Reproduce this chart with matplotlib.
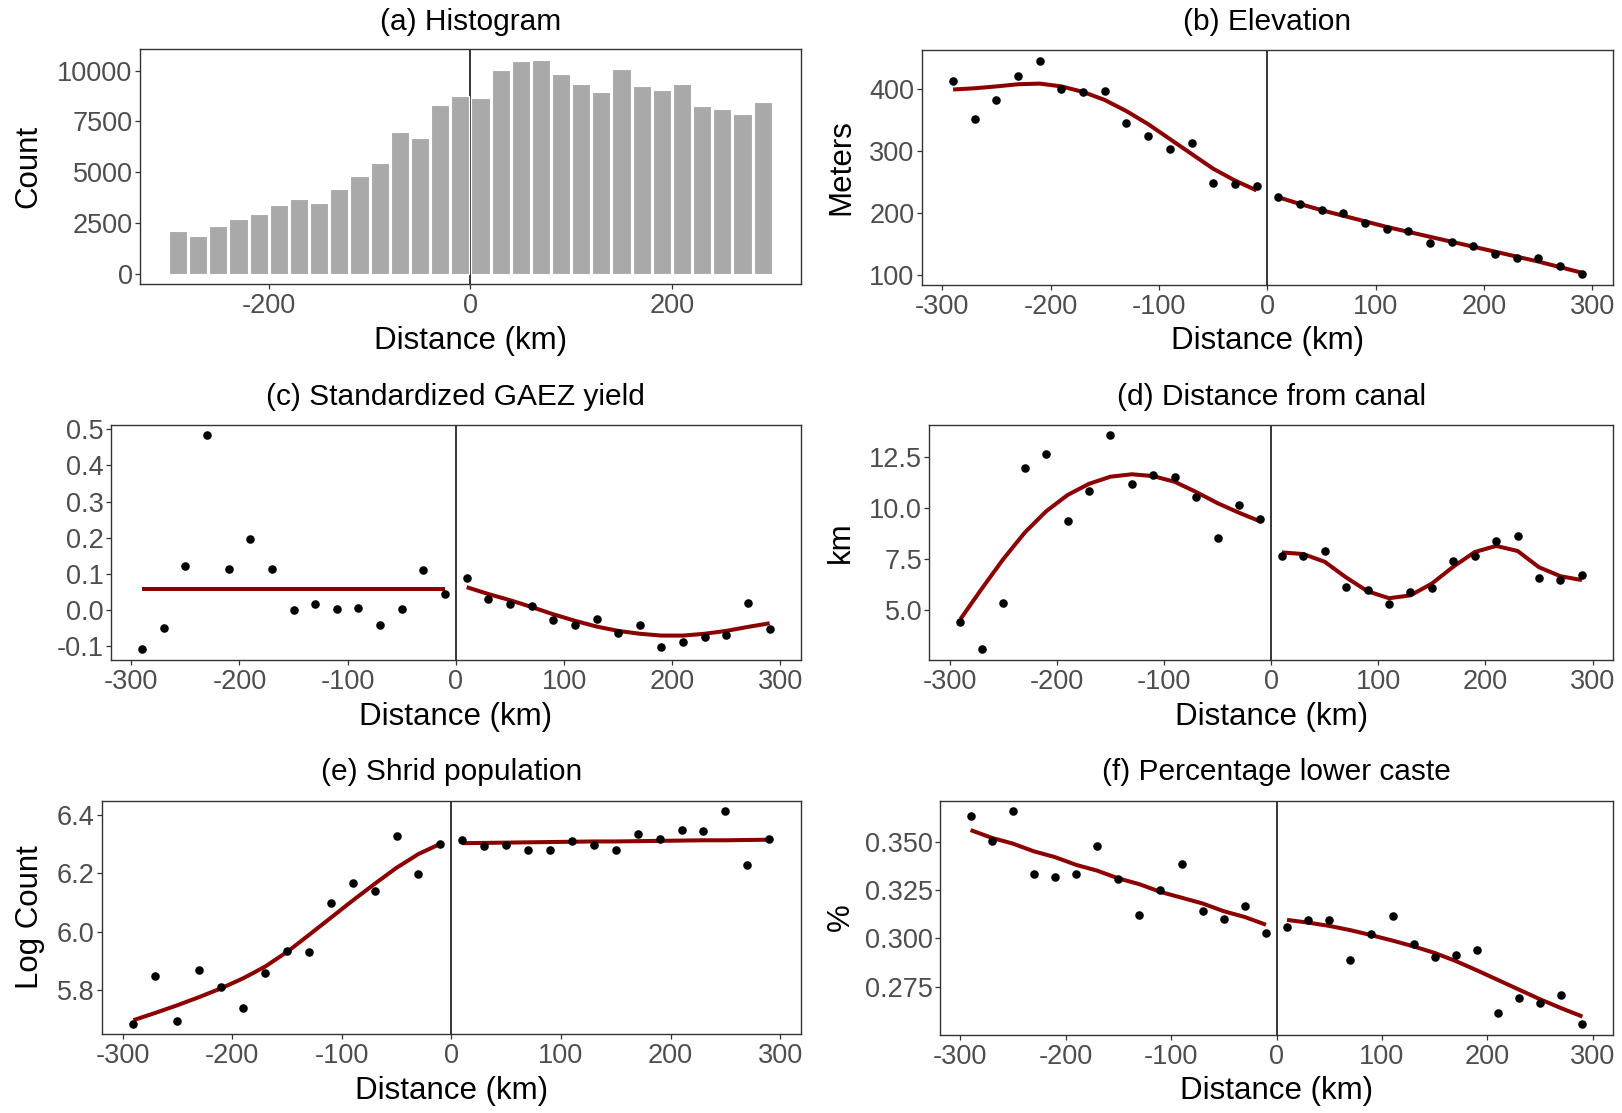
import numpy as np
import matplotlib.pyplot as plt

plt.rcParams['font.family'] = ['Liberation Sans', 'DejaVu Sans']
plt.rcParams['axes.unicode_minus'] = False

# bin centres (km from the border)
dist_all = [-290, -270, -250, -230, -210, -190, -170, -150, -130, -110, -90, -70, -50, -30, -10,
            10, 30, 50, 70, 90, 110, 130, 150, 170, 190, 210, 230, 250, 270, 290]
dist_left = dist_all[:15]
dist_right = dist_all[15:]

# (a) histogram
hist_counts = [2100, 1840, 2360, 2670, 2920, 3360, 3700, 3460, 4150, 4790, 5430, 6980, 6700, 8330, 8770,
               8640, 10050, 10480, 10520, 9840, 9360, 8930, 10080, 9260, 9050, 9360, 8250, 8130, 7840, 8460]

# (b) elevation
elev = [414.5, 351.8, 382.9, 422.5, 446.6, 401, 396, 397.9, 345.4, 325.5, 303.6, 313.2, 249.5, 247.3, 243.6,
        227, 214.6, 204.5, 200.7, 183.6, 174, 171.3, 152.5, 154.1, 146.6, 133.8, 127.3, 127.8, 115, 102.1]
elev_fit_l = [400, 402, 405, 408.5, 409.5, 405, 396, 383, 365, 344, 320, 296, 272, 253, 237]
elev_fit_r = [226, 215, 205, 196, 187, 178, 170, 162, 154, 146, 138, 130, 122, 113, 104]

# (c) GAEZ yield
gaez = [-0.109, -0.051, 0.121, 0.483, 0.112, 0.197, 0.113, 0.001, 0.016, 0.003, 0.005, -0.043, 0.002, 0.111, 0.045,
        0.088, 0.029, 0.016, 0.012, -0.029, -0.042, -0.026, -0.064, -0.042, -0.103, -0.088, -0.075, -0.069, 0.019, -0.054]
gaez_fit_l = [0.057] * 15
gaez_fit_r = [0.063, 0.044, 0.027, 0.008, -0.012, -0.030, -0.046, -0.058, -0.066, -0.071, -0.071, -0.066, -0.058, -0.047, -0.037]

# (d) distance from canal
canal = [4.40, 3.07, 5.34, 12.0, 12.65, 9.38, 10.83, 13.58, 11.19, 11.62, 11.52, 10.56, 8.53, 10.16, 9.46,
         7.63, 7.63, 7.92, 6.11, 5.98, 5.28, 5.90, 6.09, 7.42, 7.66, 8.40, 8.63, 6.57, 6.49, 6.70]
canal_fit_l = [4.55, 6.05, 7.5, 8.8, 9.85, 10.65, 11.2, 11.55, 11.67, 11.58, 11.3, 10.8, 10.25, 9.78, 9.35]
canal_fit_r = [7.83, 7.75, 7.37, 6.6, 5.92, 5.58, 5.72, 6.3, 7.13, 7.85, 8.15, 7.9, 7.1, 6.66, 6.47]

# (e) shrid population
pop = [5.685, 5.847, 5.694, 5.870, 5.810, 5.739, 5.857, 5.932, 5.929, 6.098, 6.166, 6.139, 6.326, 6.197, 6.300,
       6.312, 6.292, 6.297, 6.279, 6.278, 6.308, 6.297, 6.279, 6.335, 6.317, 6.348, 6.343, 6.411, 6.228, 6.315]
pop_fit_l = [5.697, 5.722, 5.748, 5.776, 5.806, 5.840, 5.880, 5.930, 5.988, 6.047, 6.106, 6.163, 6.218, 6.265, 6.300]
pop_fit_r = [6.302, 6.303, 6.304, 6.305, 6.306, 6.307, 6.308, 6.308, 6.309, 6.310, 6.311, 6.312, 6.312, 6.313, 6.314]

# (f) percentage lower caste
caste = [0.3633, 0.3505, 0.3657, 0.3334, 0.3315, 0.3333, 0.3480, 0.3307, 0.3123, 0.3252, 0.3386, 0.3143, 0.3102, 0.3167, 0.3026,
         0.3056, 0.3096, 0.3094, 0.2886, 0.3022, 0.3113, 0.2968, 0.2901, 0.2913, 0.2937, 0.2614, 0.2689, 0.2665, 0.2706, 0.2557]
caste_fit_l = [0.356, 0.352, 0.349, 0.345, 0.342, 0.338, 0.335, 0.331, 0.328, 0.324, 0.321, 0.318, 0.314, 0.311, 0.307]
caste_fit_r = [0.3095, 0.3081, 0.3064, 0.3042, 0.3016, 0.2988, 0.2958, 0.2924, 0.2882, 0.2834, 0.2784, 0.2734, 0.2684, 0.2638, 0.2595]

W, H = 1622, 1113
fig = plt.figure(figsize=(W / 100, H / 100), dpi=100)

FIT_COLOR = '#8B0000'


def add_panel(l, r, t, b):
    return fig.add_axes([l / W, 1 - b / H, (r - l) / W, (b - t) / H])


def finish(ax, l, r, t, b, title, xlab_y, title_y, ylab=None, ylab_x=None):
    for s in ax.spines.values():
        s.set_color('#333333')
        s.set_linewidth(1.0)
    ax.tick_params(length=3.6, width=0.9, color='#333333', labelcolor='#4D4D4D',
                   labelsize=19.5, pad=1.5)
    ax.tick_params(axis='x', pad=3)
    ax.axvline(0, color='black', lw=1.1, zorder=1)
    cx = (l + r) / 2 / W
    fig.text(cx, 1 - title_y / H, title, ha='center', va='center', fontsize=21.5)
    fig.text(cx, 1 - xlab_y / H, 'Distance (km)', ha='center', va='center', fontsize=22.5)
    if ylab:
        fig.text(ylab_x / W, 1 - (t + b) / 2 / H, ylab, ha='center', va='center',
                 rotation=90, fontsize=22.5)


def expand(ax, vals):
    lo, hi = min(vals), max(vals)
    pad = (hi - lo) * 0.05
    ax.set_ylim(lo - pad, hi + pad)


def scatter_panel(pos, y, fit_l, fit_r, title, title_y, xlab_y, yticks, ylab=None, ylab_x=None, fmt=None):
    l, r, t, b = pos
    ax = add_panel(l, r, t, b)
    ax.scatter(dist_all, y, s=38, color='black', zorder=3, linewidths=0)
    ax.plot(dist_left, fit_l, color=FIT_COLOR, lw=2.9, zorder=2, solid_capstyle='butt')
    ax.plot(dist_right, fit_r, color=FIT_COLOR, lw=2.9, zorder=2, solid_capstyle='butt')
    ax.set_xlim(-319, 319)
    ax.set_xticks([-300, -200, -100, 0, 100, 200, 300])
    expand(ax, list(y) + list(fit_l) + list(fit_r))
    ax.set_yticks(yticks)
    if fmt:
        ax.set_yticklabels([fmt.format(v) for v in yticks])
    finish(ax, l, r, t, b, title, xlab_y, title_y, ylab, ylab_x)
    return ax


# (a) histogram
l, r, t, b = 139.7, 801, 49.3, 284.3
ax = add_panel(l, r, t, b)
ax.bar(dist_all, hist_counts, width=18, color='#A9A9A9', edgecolor='white', linewidth=0.8, zorder=2)
ax.set_xlim(-328, 328)
ax.set_xticks([-200, 0, 200])
ax.set_ylim(-526, 11051)
ax.set_yticks([0, 2500, 5000, 7500, 10000])
finish(ax, l, r, t, b, '(a) Histogram', 341, 22, 'Count', 28)

scatter_panel((921.7, 1613, 50, 284.5), elev, elev_fit_l, elev_fit_r,
              '(b) Elevation', 22, 341, [100, 200, 300, 400], 'Meters', 841)
scatter_panel((110.7, 801, 424.7, 660), gaez, gaez_fit_l, gaez_fit_r,
              '(c) Standardized GAEZ yield', 397, 717, [-0.1, 0, 0.1, 0.2, 0.3, 0.4, 0.5], fmt='{:.1f}')
scatter_panel((929.3, 1613, 424.7, 660), canal, canal_fit_l, canal_fit_r,
              '(d) Distance from canal', 397, 717, [5.0, 7.5, 10.0, 12.5], 'km', 841, fmt='{:.1f}')
scatter_panel((101.7, 801, 800.7, 1034.3), pop, pop_fit_l, pop_fit_r,
              '(e) Shrid population', 772, 1091, [5.8, 6.0, 6.2, 6.4], 'Log Count', 30, fmt='{:.1f}')
scatter_panel((940, 1613, 800.7, 1034.5), caste, caste_fit_l, caste_fit_r,
              '(f) Percentage lower caste', 772, 1091, [0.275, 0.300, 0.325, 0.350], '%', 841, fmt='{:.3f}')

fig.savefig('out.png', dpi=100, facecolor='white')
